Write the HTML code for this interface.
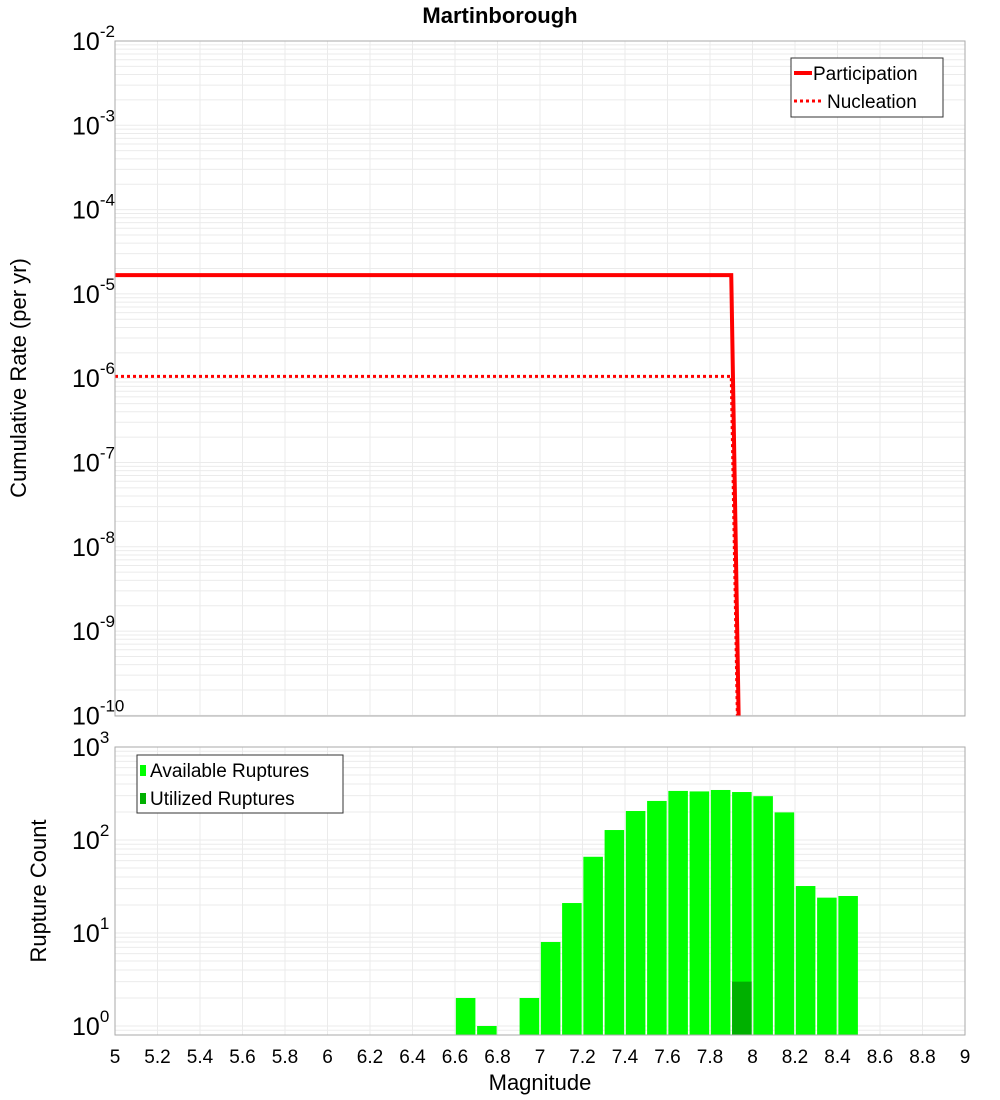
<!DOCTYPE html>
<html><head><meta charset="utf-8"><style>
body{margin:0;background:#fff;}
svg{display:block;font-family:"Liberation Sans","DejaVu Sans",sans-serif;}
</style></head><body>
<svg id="chart" width="1000" height="1100">
<text x="500" y="23" text-anchor="middle" font-size="22" font-weight="bold">Martinborough</text>
<g id="topPlot"></g>
<g id="botPlot"></g>
<text transform="translate(26,378) rotate(-90)" text-anchor="middle" font-size="22">Cumulative Rate (per yr)</text>
<text transform="translate(46,891) rotate(-90)" text-anchor="middle" font-size="22">Rupture Count</text>
<text x="540" y="1090" text-anchor="middle" font-size="22">Magnitude</text>
</svg>
<script>
const partMags=[5,7.9,7.95];
const partRates=[1.67e-5,1.67e-5,5e-13];
const nuclMags=[5,7.9,7.95];
const nuclRates=[1.05e-6,1.05e-6,1e-13];
const binMags=[6.65,6.75,6.95,7.05,7.15,7.25,7.35,7.45,7.55,7.65,7.75,7.85,7.95,8.05,8.15,8.25,8.35,8.45];
const availCounts=[2,1,2,8,21,66,128,205,263,337,333,345,328,296,198,32,24,25];
const utilMags=[7.95];
const utilCounts=[3];
const xTicks=[5,5.2,5.4,5.6,5.8,6,6.2,6.4,6.6,6.8,7,7.2,7.4,7.6,7.8,8,8.2,8.4,8.6,8.8,9];
const topExps=[-2,-3,-4,-5,-6,-7,-8,-9,-10];
const botExps=[3,2,1,0];

const NS='http://www.w3.org/2000/svg';
function mk(p,t,a){const e=document.createElementNS(NS,t);for(const k in a)e.setAttribute(k,a[k]);p.appendChild(e);return e;}
const X0=115,X1=965;
const xS=m=>X0+(m-5)/4*(X1-X0);
const T0=41,TD=84.3;const yT=v=>T0+(-2-Math.log10(v))*TD;
const B0=1026,BD=93;const yB=v=>B0-Math.log10(v)*BD;
const gTop=document.getElementById('topPlot'),gBot=document.getElementById('botPlot');

function frame(g,y0,y1,yf,eMin,eMax,exps){
  mk(g,'rect',{x:X0,y:y0,width:X1-X0,height:y1-y0,fill:'#fff'});
  for(let e=eMin;e<eMax;e++)for(let k=1;k<10;k++){const y=yf(k*Math.pow(10,e));if(y>=y0&&y<=y1){const l=mk(g,'line',{x1:X0,x2:X1,y1:y,y2:y,stroke:'#ebebeb','stroke-width':1});
  
  }}
  xTicks.forEach(m=>{const l=mk(g,'line',{x1:xS(m),x2:xS(m),y1:y0,y2:y1,stroke:'#ebebeb','stroke-width':1});
  
  });
  exps.forEach(e=>{const y=yf(Math.pow(10,e));const t=mk(g,'text',{x:72,y:y+9,'font-size':25});
  
  
  t.appendChild(document.createTextNode('10'));
  const s=mk(t,'tspan',{dy:-13,'font-size':17});s.textContent=String(e);});
}
frame(gTop,41,716,yT,-11,-2,topExps);
frame(gBot,747,1035,yB,-1,3,botExps);

function line(g,ms,vs,dash,name){
  const pts=ms.map((m,i)=>xS(m)+','+yT(vs[i])).join(' ');
  const p=mk(g,'polyline',{points:pts,fill:'none',stroke:'#ff0000','stroke-width':dash?3:4});
  if(dash)p.setAttribute('stroke-dasharray','3,3');
  
  
}
const cp=mk(gTop,'clipPath',{id:'cp'});mk(cp,'rect',{x:X0,y:41,width:X1-X0,height:675});
const tg=mk(gTop,'g',{'clip-path':'url(#cp)'});
line(tg,nuclMags,nuclRates,true,'nucleation-line');
line(tg,partMags,partRates,false,'participation-line');
mk(gTop,'rect',{x:X0,y:41,width:X1-X0,height:675,fill:'none',stroke:'#aaa'});

const bw=0.092*(X1-X0)/4;
binMags.forEach((m,i)=>{const y=yB(availCounts[i]);const r=mk(gBot,'rect',{x:xS(m)-bw/2,y:y,width:bw,height:1035-y,fill:'#00ff00'});

});
utilMags.forEach((m,i)=>{const y=yB(utilCounts[i]);const r=mk(gBot,'rect',{x:xS(m)-bw/2,y:y,width:bw,height:1035-y,fill:'#00b000'});

});
mk(gBot,'rect',{x:X0,y:747,width:X1-X0,height:288,fill:'none',stroke:'#aaa'});

xTicks.forEach(m=>{const t=mk(gBot,'text',{x:xS(m),y:1063,'text-anchor':'middle','font-size':19});


t.textContent=String(m);});

const lg=mk(gTop,'g',{});


mk(lg,'rect',{x:791,y:58,width:152,height:59,fill:'#fff',stroke:'#333'});
mk(lg,'line',{x1:794,x2:812,y1:73,y2:73,stroke:'#f00','stroke-width':4});
mk(lg,'line',{x1:794,x2:822,y1:101,y2:101,stroke:'#f00','stroke-width':3,'stroke-dasharray':'3,3'});
const l1=mk(lg,'text',{x:813,y:80,'font-size':19});l1.textContent='Participation';


const l2=mk(lg,'text',{x:827,y:108,'font-size':19});l2.textContent='Nucleation';



const bl=mk(gBot,'g',{});


mk(bl,'rect',{x:137,y:755,width:206,height:58,fill:'#fff',stroke:'#333'});
mk(bl,'rect',{x:140,y:765,width:6,height:11,fill:'#00ff00'});
mk(bl,'rect',{x:140,y:793,width:6,height:11,fill:'#00b000'});
const b1=mk(bl,'text',{x:150,y:777,'font-size':19});b1.textContent='Available Ruptures';


const b2=mk(bl,'text',{x:150,y:805,'font-size':19});b2.textContent='Utilized Ruptures';


</script>
</body></html>
